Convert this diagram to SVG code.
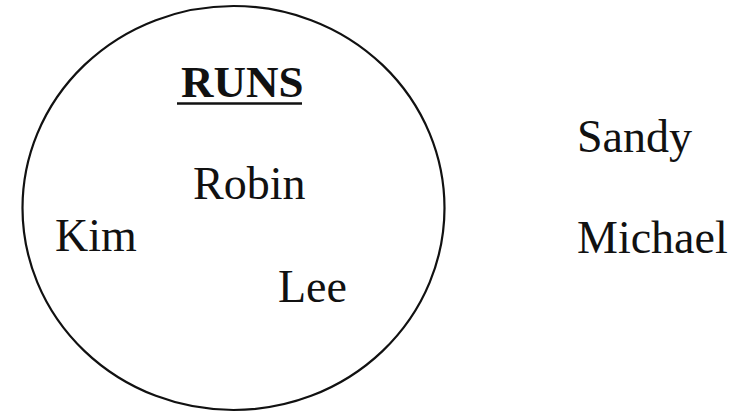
<svg xmlns="http://www.w3.org/2000/svg" width="743" height="414" viewBox="0 0 743 414">
<style>
text{font-family:"Liberation Serif","Times New Roman",serif;font-size:46px;fill:#111}
.b{font-weight:bold;font-size:45px}
</style>
<rect width="743" height="414" fill="#fff"/>
<g id="set-runs">
<ellipse cx="233.5" cy="208" rx="211" ry="202" fill="none" stroke="#111" stroke-width="2.2"/>
<text class="b" x="181" y="97">RUNS</text>
<line x1="177" y1="103.5" x2="302" y2="103.5" stroke="#111" stroke-width="2.5"/>
</g>
<g id="robin"><text x="193" y="199">Robin</text></g>
<g id="kim"><text x="55" y="251">Kim</text></g>
<g id="lee"><text x="278" y="302">Lee</text></g>
<g id="sandy"><text x="577" y="152">Sandy</text></g>
<g id="michael"><text x="577" y="253">Michael</text></g>
<g id="connectors"></g>
</svg>
